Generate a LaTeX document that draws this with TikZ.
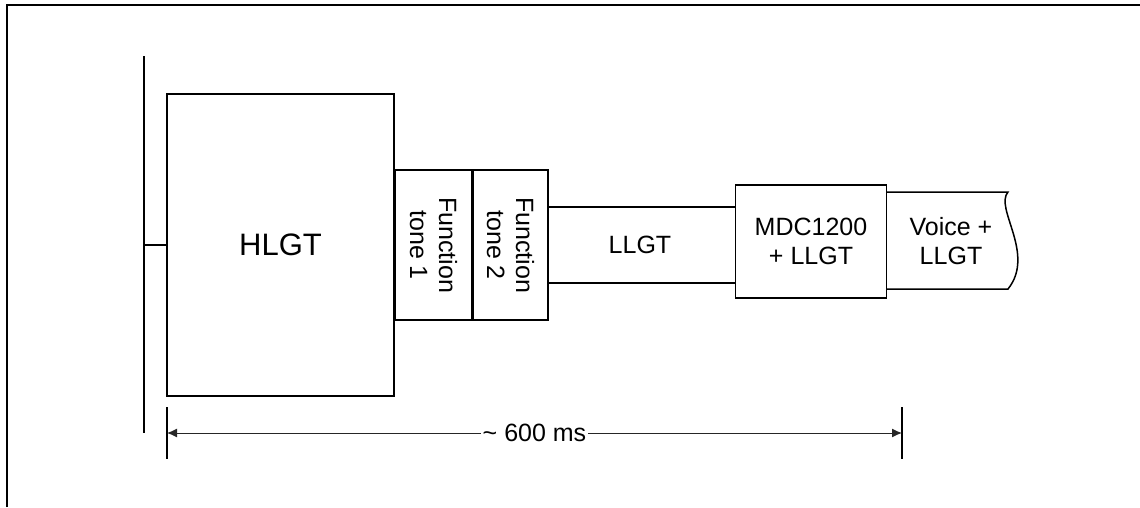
\documentclass[tikz,border=0pt]{standalone}
\usepackage{fontspec}
\setmainfont{Liberation Sans}
\usetikzlibrary{arrows.meta,calc}
\tikzset{
  box/.style={draw, line width=1.5pt, inner sep=0pt, font=\fontsize{25}{29}\selectfont, align=center},
  lbl/.style={inner sep=0pt, font=\fontsize{25}{29}\selectfont, align=center},
  ln/.style={line width=1.5pt},
  dimline/.style={line width=1pt, draw=black!85, {Latex[length=10pt,width=9pt]}-{Latex[length=10pt,width=9pt]}},
}
\begin{document}
\begin{tikzpicture}[x=1pt,y=-1pt]
\useasboundingbox (0,0) rectangle (1140,507);
% frame (top and left)
\draw[line width=2.2pt] (7,507) -- (7,5) -- (1140,5);
% left bar
\coordinate (bartop) at (144,56);
\coordinate (barbot) at (144,433);
\draw[ln] (bartop) -- (barbot);
% HLGT
\node[box, minimum width=227pt, minimum height=302pt, font=\fontsize{31}{36}\selectfont] (hlgt) at (280.5,245) {HLGT};
\draw[ln] (barbot |- hlgt.west) -- (hlgt.west);
% function tones
\node[box, minimum width=76pt, minimum height=150pt, anchor=west] (ft1) at (hlgt.east) {};
\node[lbl, rotate=-90] at (ft1.center) {Function\\tone 1};
\node[box, minimum width=75pt, minimum height=150pt, anchor=west] (ft2) at (ft1.east) {};
\node[lbl, rotate=-90] at (ft2.center) {Function\\tone 2};
% LLGT
\node[box, minimum width=151pt, minimum height=113pt] (mdc) at (811,241.5) {MDC1200\\+ LLGT};
\coordinate (lt) at (640,207);
\coordinate (lb) at (640,283);
\draw[ln] (ft2.east |- lt) -- (mdc.west |- lt);
\draw[ln] (ft2.east |- lb) -- (mdc.west |- lb);
\node[lbl] (llgt) at (640,245) {LLGT};
% Voice
\coordinate (vtl) at (886.75,192);
\coordinate (vbl) at (886.75,289);
\coordinate (vtr) at (1008,192);
\coordinate (vbr) at (1008,289);
\draw[ln] (vtl) -- (vtr) .. controls (994,208) and (1036,254) .. (vbr) -- (vbl);
\node[lbl] (voice) at (951,241) {Voice +\\LLGT};
% dimension
\coordinate (dl) at (167,433);
\coordinate (dr) at (902,433);
\draw[line width=1.2pt] ($(dl)+(0,-26)$) -- ($(dl)+(0,26)$);
\draw[line width=1.2pt] ($(dr)+(0,-26)$) -- ($(dr)+(0,26)$);
\draw[dimline] (dl) -- node[lbl, fill=white, inner xsep=2pt, inner ysep=3pt] (dim) {\char`~\ 600 ms} (dr);
\end{tikzpicture}
\end{document}
